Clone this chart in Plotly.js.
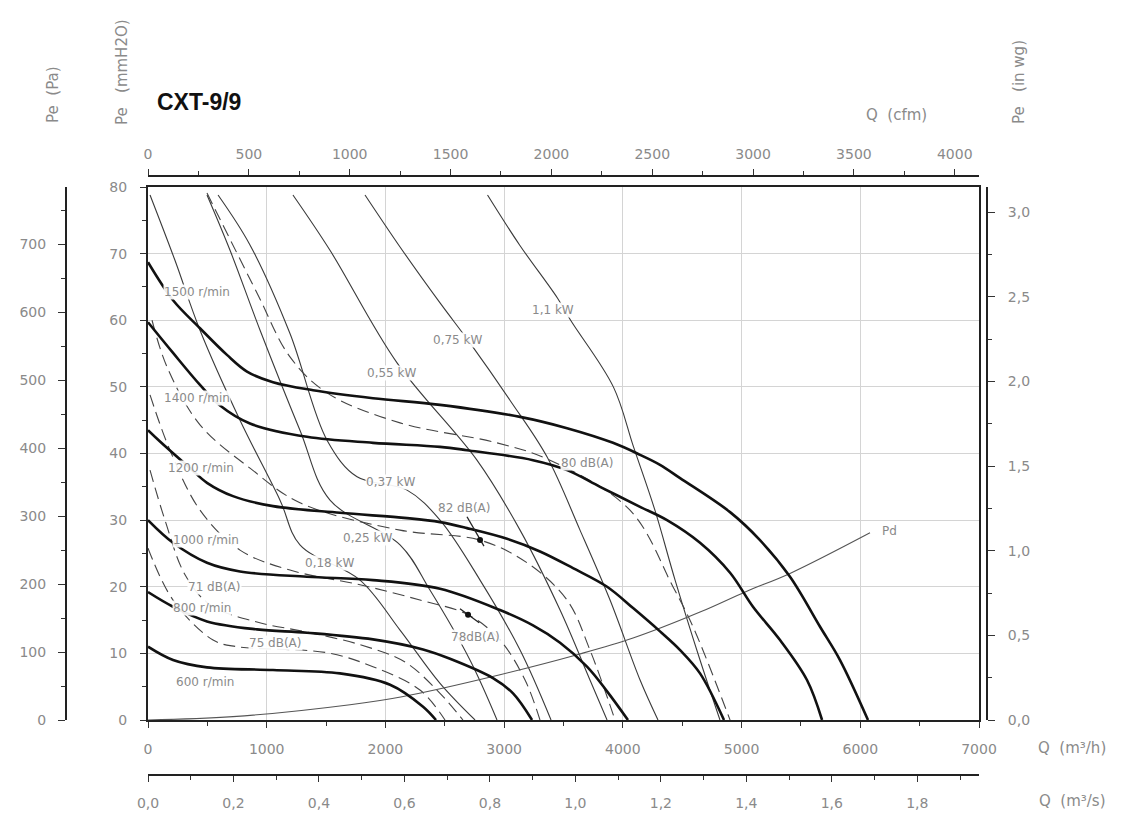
<!DOCTYPE html>
<html><head><meta charset="utf-8">
<script src="https://cdn.plot.ly/plotly-3.0.1.min.js"></script>
<style>html,body{margin:0;padding:0;background:#fff}#chart{width:1130px;height:818px}</style>
</head><body><div id="chart"></div>
<script>
// ---------- DATA (Q in m3/h, Pe in mmH2O) ----------
const fan1500_q = [0, 211, 438, 665, 834, 1053, 1390, 1895, 2460, 3134, 3530, 3917, 4145, 4313, 4482, 4903, 5155, 5408, 5661, 5829, 6065];
const fan1500_p = [68.7, 63.0, 58.8, 54.8, 52.3, 50.7, 49.5, 48.3, 47.3, 45.5, 43.8, 41.6, 39.8, 38.3, 36.3, 31.2, 27.0, 21.5, 14.0, 9.0, 0];
const fan1400_q = [0, 211, 438, 607, 859, 1339, 1895, 2460, 2687, 3243, 3530, 3808, 4145, 4372, 4650, 4903, 5096, 5324, 5551, 5678];
const fan1400_p = [59.7, 55.1, 50.3, 47.2, 44.5, 42.5, 41.6, 41.0, 40.5, 39.0, 37.5, 35.0, 32.0, 30.0, 26.6, 22.1, 17.0, 12.0, 6.0, 0];
const fan1200_q = [0, 101, 354, 497, 716, 1053, 1617, 2182, 2460, 2687, 3024, 3302, 3580, 3867, 4086, 4313, 4482, 4650, 4852];
const fan1200_p = [43.5, 41.8, 37.8, 35.6, 33.6, 32.1, 31.1, 30.3, 29.7, 28.8, 27.2, 25.3, 22.8, 20.0, 16.8, 13.3, 10.5, 7.0, 0];
const fan1000_q = [0, 211, 497, 775, 1339, 1895, 2460, 2965, 3243, 3471, 3698, 3867, 4043];
const fan1000_p = [30.0, 26.6, 23.6, 22.3, 21.5, 21.0, 19.7, 16.5, 14.2, 11.6, 8.0, 4.3, 0];
const fan800_q = [0, 211, 497, 918, 1339, 1895, 2317, 2544, 2906, 3075, 3235];
const fan800_p = [19.2, 17.0, 14.8, 13.6, 13.1, 12.1, 10.6, 9.2, 6.3, 4.0, 0];
const fan600_q = [0, 211, 497, 1053, 1617, 2039, 2317, 2426];
const fan600_p = [11.0, 9.0, 7.9, 7.5, 7.0, 5.3, 2.0, 0];
const pd_q = [0, 716, 1702, 2140, 2965, 3615, 4086, 4650, 5040, 5408, 6082];
const pd_p = [0, 0.5, 2.3, 3.5, 6.8, 9.8, 12.3, 16.2, 19.3, 22.0, 28.1];

// absorbed power lines (kW)
const kw110_q = [2860, 3130, 3450, 3560, 3920, 4090, 4270, 4440, 4650, 4818];
const kw110_p = [78.8, 71.3, 63.3, 60.0, 50.0, 41.0, 31.5, 21.0, 9.0, 0];
const kw075_q = [1828, 2123, 2460, 2712, 3049, 3361, 3639, 3892, 4145, 4296];
const kw075_p = [78.8, 71.0, 62.6, 56.6, 48.0, 39.5, 28.5, 18.0, 6.0, 0];
const kw055_q = [1221, 1533, 2098, 2771, 3134, 3471, 3723, 3867];
const kw055_p = [78.8, 70.5, 53.6, 39.0, 28.5, 16.5, 6.0, 0];
const kw037_q = [590, 859, 1196, 1508, 1761, 2182, 2460, 2797, 3134, 3395];
const kw037_p = [78.8, 71.3, 58.0, 42.0, 36.5, 34.5, 30.0, 21.0, 10.5, 0];
const kw025_q = [497, 691, 944, 1280, 1533, 2123, 2375, 2712, 2940];
const kw025_p = [78.8, 70.5, 58.5, 43.5, 33.0, 26.3, 19.5, 9.0, 0];
const kw018_q = [17, 227, 438, 775, 1112, 1280, 1786, 2123, 2460, 2755];
const kw018_p = [78.8, 69.0, 58.5, 45.0, 33.0, 26.3, 21.0, 13.5, 5.5, 0];

// sound level lines dB(A)
const dbA_q = [497, 918, 1196, 1508, 2123, 2940, 3386, 4060, 4422, 4591, 4903];
const dbA_p = [79.1, 64.1, 54.5, 49.1, 44.6, 41.6, 39.0, 31.5, 20.0, 14.0, 0];
const dbB_q = [34, 160, 438, 859, 1280, 2123, 2797, 3193, 3530, 3723, 3934];
const dbB_p = [60.0, 53.0, 44.3, 37.8, 32.6, 28.5, 27.0, 23.6, 18.0, 10.5, 0];
const dbC_q = [17, 185, 438, 775, 1196, 1786, 2291, 2696, 2965, 3176, 3302];
const dbC_p = [48.8, 40.5, 31.5, 25.5, 22.5, 20.3, 18.0, 15.8, 12.0, 6.0, 0];
const dbD_q = [17, 143, 312, 522, 918, 1339, 1786, 2165, 2460, 2653];
const dbD_p = [37.5, 30.0, 21.8, 17.3, 14.7, 13.2, 11.3, 8.7, 4.0, 0];
const dbE_q = [0, 211, 548, 750, 1508, 1895, 2291, 2502];
const dbE_p = [25.8, 18.0, 12.0, 11.0, 10.1, 8.0, 4.5, 0];

// marked points and their leader lines
const dotQ = [2797, 2696];
const dotP = [27.0, 15.8];
const leader1_q = [2687, 2830];
const leader1_p = [30.5, 26.1];
const leader2_q = [2628, 2790];
const leader2_p = [16.7, 14.6];

const speedLabels = ["1500 r/min", "1400 r/min", "1200 r/min", "1000 r/min", "800 r/min", "600 r/min"];
const speedLabelQ = [413, 413, 447, 489, 455, 480];
const speedLabelP = [64.2, 48.3, 37.8, 27.0, 16.8, 5.7];
const kwLabels = ["1,1 kW", "0,75 kW", "0,55 kW", "0,37 kW", "0,25 kW", "0,18 kW"];
const kwLabelQ = [3412, 2603, 2055, 2039, 1853, 1533];
const kwLabelP = [61.5, 57.0, 52.1, 35.7, 27.3, 23.6];
const dbLabels = ["80 dB(A)", "82 dB(A)", "71 dB(A)", "78dB(A)", "75 dB(A)"];
const dbLabelQ = [3698, 2670, 564, 2755, 1070];
const dbLabelP = [38.5, 31.8, 20.0, 12.5, 11.6];

const xTicksMain = [0, 1000, 2000, 3000, 4000, 5000, 6000, 7000];
const cfmTicks = [0, 500, 1000, 1500, 2000, 2500, 3000, 3500, 4000];
const m3sTicks = [0, 0.2, 0.4, 0.6, 0.8, 1.0, 1.2, 1.4, 1.6, 1.8];
const mmTicks = [0, 10, 20, 30, 40, 50, 60, 70, 80];
const paTicks = [0, 100, 200, 300, 400, 500, 600, 700];
const inwgTicks = [0, 0.5, 1.0, 1.5, 2.0, 2.5, 3.0];

// ---------- LAYOUT HELPERS ----------
const W = 1130, H = 818;
const px = v => v / W, py = v => (H - v) / H;
const XL = 148, XR = 979, YT = 187, YB = 720;
const FONT = "DejaVu Sans";
const tickFont = {family: FONT, size: 14, color: "#8a8a8a"};
const lblFont = {family: FONT, size: 12, color: "#8a8a8a"};

const traces = [];
function line(q, p, w, dash, color, shape) {
  traces.push({x: q, y: p, type: "scatter", mode: "lines", xaxis: "x", yaxis: "y",
    line: {color: color, width: w, dash: dash, shape: shape || "spline", smoothing: 1.0}, hoverinfo: "skip", showlegend: false});
}
[[kw110_q, kw110_p], [kw075_q, kw075_p], [kw055_q, kw055_p], [kw037_q, kw037_p],
 [kw025_q, kw025_p], [kw018_q, kw018_p]].forEach(a => line(a[0], a[1], 1.1, "solid", "#3a3a3a"));
[[dbA_q, dbA_p], [dbB_q, dbB_p], [dbC_q, dbC_p], [dbD_q, dbD_p], [dbE_q, dbE_p]].forEach(a => line(a[0], a[1], 1.1, "12px,6px", "#444"));
line(pd_q, pd_p, 1.1, "solid", "#555");
[[fan1500_q, fan1500_p], [fan1400_q, fan1400_p], [fan1200_q, fan1200_p],
 [fan1000_q, fan1000_p], [fan800_q, fan800_p], [fan600_q, fan600_p]].forEach(a => line(a[0], a[1], 2.6, "solid", "#111"));
line(leader1_q, leader1_p, 1.3, "solid", "#222", "linear");
line(leader2_q, leader2_p, 1.3, "solid", "#222", "linear");
traces.push({x: dotQ, y: dotP, type: "scatter", mode: "markers", marker: {color: "#111", size: 6},
  hoverinfo: "skip", showlegend: false});

// dummy traces to activate extra axes
traces.push({x: [0], y: [0], xaxis: "x2", yaxis: "y", mode: "markers", marker: {opacity: 0}, hoverinfo: "skip", showlegend: false});
traces.push({x: [0], y: [0], xaxis: "x3", yaxis: "y", mode: "markers", marker: {opacity: 0}, hoverinfo: "skip", showlegend: false});
traces.push({x: [0], y: [0], xaxis: "x", yaxis: "y2", mode: "markers", marker: {opacity: 0}, hoverinfo: "skip", showlegend: false});
traces.push({x: [0], y: [0], xaxis: "x", yaxis: "y3", mode: "markers", marker: {opacity: 0}, hoverinfo: "skip", showlegend: false});

const annotations = [];
function ann(text, x, y, xref, yref, opts) {
  annotations.push(Object.assign({text: text, x: x, y: y, xref: xref, yref: yref, showarrow: false, font: lblFont,
    xanchor: "center", yanchor: "middle"}, opts || {}));
}
const bgw = {bgcolor: "rgba(255,255,255,0.92)", borderpad: 0};
speedLabels.forEach((t, i) => ann(t, speedLabelQ[i], speedLabelP[i], "x", "y", bgw));
kwLabels.forEach((t, i) => ann(t, kwLabelQ[i], kwLabelP[i], "x", "y", bgw));
dbLabels.forEach((t, i) => ann(t, dbLabelQ[i], dbLabelP[i], "x", "y", bgw));
ann("Pd", 6250, 28.3, "x", "y", {});

const titleFont = {family: FONT, size: 15, color: "#8a8a8a"};
ann("CXT-9/9", px(155), py(102), "paper", "paper", {xanchor: "left", font: {family: "Liberation Sans, Arial", size: 23, color: "#111", weight: "bold"}});
ann("Pe  (Pa)", px(53), py(95), "paper", "paper", {textangle: -90, font: titleFont});
ann("Pe   (mmH2O)", px(122), py(72), "paper", "paper", {textangle: -90, font: titleFont});
ann("Pe   (in wg)", px(1019), py(82), "paper", "paper", {textangle: -90, font: titleFont});
ann("Q  (cfm)", px(896), py(115), "paper", "paper", {font: titleFont});
ann("Q  (m³/h)", px(1072), py(748), "paper", "paper", {font: titleFont});
ann("Q  (m³/s)", px(1072), py(801), "paper", "paper", {font: titleFont});

const axCommon = {showline: true, linecolor: "#222", linewidth: 2, tickcolor: "#333", tickfont: tickFont, zeroline: false, ticks: "outside"};
const layout = {
  width: W, height: H, margin: {l: 0, r: 0, t: 0, b: 0},
  paper_bgcolor: "#fff", plot_bgcolor: "#fff", showlegend: false,
  xaxis: Object.assign({}, axCommon, {domain: [px(XL), px(XR)], range: [0, 7000], tickvals: xTicksMain, ticktext: xTicksMain.map(String),
    showgrid: true, gridcolor: "#d4d4d4", gridwidth: 1, mirror: true, ticklen: 6, ticklabelstandoff: 9,
    minor: {dtick: 500, ticks: "outside", ticklen: 4, tickcolor: "#333", showgrid: false}}),
  yaxis: Object.assign({}, axCommon, {domain: [py(YB), py(YT)], range: [0, 80], tickvals: mmTicks, ticktext: mmTicks.map(String),
    showgrid: true, gridcolor: "#d4d4d4", gridwidth: 1, mirror: true, ticklen: 6, ticklabelstandoff: 10,
    minor: {dtick: 5, ticks: "outside", ticklen: 4, tickcolor: "#333", showgrid: false}}),
  xaxis2: Object.assign({}, axCommon, {overlaying: "x", anchor: "free", position: py(176), side: "top", range: [0, 7000 / 1.699],
    tickvals: cfmTicks, ticktext: cfmTicks.map(String), showgrid: false, ticklen: 6, ticklabelstandoff: 4,
    minor: {dtick: 250, ticks: "outside", ticklen: 4, tickcolor: "#333"}}),
  xaxis3: Object.assign({}, axCommon, {overlaying: "x", anchor: "free", position: py(775), side: "bottom", range: [0, 7000 / 3600],
    tickvals: m3sTicks, ticktext: m3sTicks.map(v => v.toFixed(1).replace(".", ",")), showgrid: false, ticklen: 6, ticklabelstandoff: 9,
    minor: {dtick: 0.1, ticks: "outside", ticklen: 4, tickcolor: "#333"}}),
  yaxis2: Object.assign({}, axCommon, {overlaying: "y", anchor: "free", position: px(66), side: "left", range: [0, 80 * 9.80665],
    tickvals: paTicks, ticktext: paTicks.map(String), showgrid: false, ticklen: 7, ticklabelstandoff: 9,
    minor: {dtick: 50, ticks: "outside", ticklen: 4, tickcolor: "#333"}}),
  yaxis3: Object.assign({}, axCommon, {overlaying: "y", anchor: "free", position: px(987), side: "right", range: [0, 80 / 25.4],
    tickvals: inwgTicks, ticktext: inwgTicks.map(v => v.toFixed(1).replace(".", ",")), showgrid: false, ticklen: 7, ticklabelstandoff: 10,
    minor: {dtick: 0.25, ticks: "outside", ticklen: 4, tickcolor: "#333"}}),
  annotations: annotations
};
Plotly.newPlot("chart", traces, layout, {displayModeBar: false, staticPlot: true});
</script></body></html>
